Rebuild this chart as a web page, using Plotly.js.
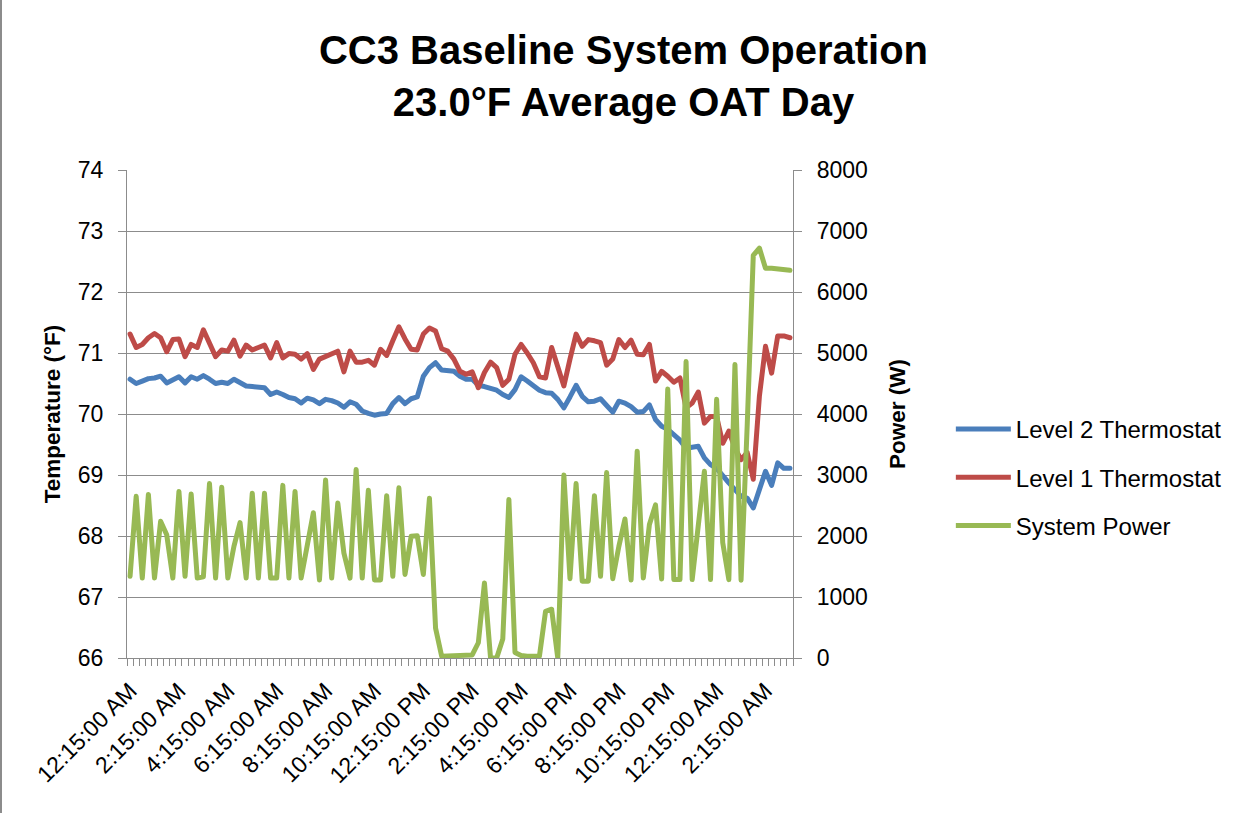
<!DOCTYPE html>
<html>
<head>
<meta charset="utf-8">
<script src="https://cdn.plot.ly/plotly-3.0.1.min.js"></script>
<style>
  html, body { margin: 0; padding: 0; background: #ffffff; }
  #chart { width: 1247px; height: 813px; position: relative; }
  #edge { position: absolute; left: 0; top: 0; width: 2px; height: 813px; background: #8c8c8c; }
  .scatterlayer path.js-line { stroke-linejoin: round; stroke-linecap: round; }
</style>
</head>
<body>
<div id="chart"></div>
<div id="edge"></div>
<script>
// 15-minute intervals, 12:15 AM through 3:15 AM next day
const times = [
  "12:15:00 AM","12:30:00 AM","12:45:00 AM",
  "1:00:00 AM","1:15:00 AM","1:30:00 AM","1:45:00 AM",
  "2:00:00 AM","2:15:00 AM","2:30:00 AM","2:45:00 AM",
  "3:00:00 AM","3:15:00 AM","3:30:00 AM","3:45:00 AM",
  "4:00:00 AM","4:15:00 AM","4:30:00 AM","4:45:00 AM",
  "5:00:00 AM","5:15:00 AM","5:30:00 AM","5:45:00 AM",
  "6:00:00 AM","6:15:00 AM","6:30:00 AM","6:45:00 AM",
  "7:00:00 AM","7:15:00 AM","7:30:00 AM","7:45:00 AM",
  "8:00:00 AM","8:15:00 AM","8:30:00 AM","8:45:00 AM",
  "9:00:00 AM","9:15:00 AM","9:30:00 AM","9:45:00 AM",
  "10:00:00 AM","10:15:00 AM","10:30:00 AM","10:45:00 AM",
  "11:00:00 AM","11:15:00 AM","11:30:00 AM","11:45:00 AM",
  "12:00:00 PM","12:15:00 PM","12:30:00 PM","12:45:00 PM",
  "1:00:00 PM","1:15:00 PM","1:30:00 PM","1:45:00 PM",
  "2:00:00 PM","2:15:00 PM","2:30:00 PM","2:45:00 PM",
  "3:00:00 PM","3:15:00 PM","3:30:00 PM","3:45:00 PM",
  "4:00:00 PM","4:15:00 PM","4:30:00 PM","4:45:00 PM",
  "5:00:00 PM","5:15:00 PM","5:30:00 PM","5:45:00 PM",
  "6:00:00 PM","6:15:00 PM","6:30:00 PM","6:45:00 PM",
  "7:00:00 PM","7:15:00 PM","7:30:00 PM","7:45:00 PM",
  "8:00:00 PM","8:15:00 PM","8:30:00 PM","8:45:00 PM",
  "9:00:00 PM","9:15:00 PM","9:30:00 PM","9:45:00 PM",
  "10:00:00 PM","10:15:00 PM","10:30:00 PM","10:45:00 PM",
  "11:00:00 PM","11:15:00 PM","11:30:00 PM","11:45:00 PM",
  "12:00:00 AM","12:15:00 AM","12:30:00 AM","12:45:00 AM",
  "1:00:00 AM","1:15:00 AM","1:30:00 AM","1:45:00 AM",
  "2:00:00 AM","2:15:00 AM","2:30:00 AM","2:45:00 AM",
  "3:00:00 AM","3:15:00 AM"
];

// Level 2 Thermostat (°F)
const level2 = [
  70.57, 70.50, 70.54, 70.58, 70.59, 70.62, 70.51, 70.55, 70.61, 70.51,
  70.61, 70.57, 70.63, 70.57, 70.50, 70.52, 70.50, 70.57, 70.51, 70.46,
  70.45, 70.44, 70.43, 70.32, 70.36, 70.32, 70.27, 70.25, 70.18, 70.26,
  70.23, 70.17, 70.24, 70.22, 70.18, 70.11, 70.20, 70.16, 70.05, 70.01,
  69.98, 70.00, 70.01, 70.17, 70.27, 70.17, 70.25, 70.28, 70.62, 70.76,
  70.84, 70.72, 70.72, 70.70, 70.62, 70.57, 70.57, 70.47, 70.45, 70.43,
  70.39, 70.32, 70.27, 70.40, 70.61, 70.54, 70.46, 70.39, 70.35, 70.34,
  70.24, 70.10, 70.28, 70.47, 70.29, 70.20, 70.21, 70.25, 70.14, 70.03,
  70.21, 70.18, 70.12, 70.03, 70.04, 70.15, 69.91, 69.80, 69.75, 69.66,
  69.57, 69.44, 69.46, 69.47, 69.28, 69.17, 69.11, 68.98, 68.87, 68.76,
  68.65, 68.62, 68.46, 68.76, 69.06, 68.83, 69.20, 69.11, 69.11
];

// Level 1 Thermostat (°F)
const level1 = [
  71.31, 71.09, 71.14, 71.25, 71.32, 71.25, 71.02, 71.22, 71.23, 70.94,
  71.14, 71.09, 71.38, 71.14, 70.94, 71.05, 71.03, 71.21, 70.95, 71.13,
  71.05, 71.09, 71.13, 70.92, 71.17, 70.92, 70.99, 70.98, 70.90, 70.99,
  70.73, 70.90, 70.94, 70.98, 71.03, 70.69, 71.03, 70.85, 70.85, 70.88,
  70.80, 71.06, 70.96, 71.20, 71.43, 71.23, 71.06, 71.05, 71.31, 71.41,
  71.36, 71.07, 71.03, 70.90, 70.70, 70.65, 70.69, 70.43, 70.68, 70.85,
  70.76, 70.47, 70.57, 70.98, 71.14, 71.00, 70.84, 70.61, 70.59, 71.09,
  70.79, 70.46, 70.90, 71.31, 71.11, 71.22, 71.20, 71.17, 70.80, 70.90,
  71.22, 71.09, 71.21, 70.98, 70.97, 71.14, 70.54, 70.70, 70.62, 70.52,
  70.59, 70.10, 70.18, 70.36, 69.85, 69.96, 69.96, 69.52, 69.72, 69.44,
  69.25, 69.37, 68.93, 70.29, 71.11, 70.67, 71.28, 71.28, 71.25
];

// System Power (W)
const systemPower = [
  1340, 2650, 1310, 2680, 1310, 2240, 2020, 1310, 2730, 1340,
  2690, 1310, 1330, 2860, 1310, 2800, 1310, 1830, 2220, 1310,
  2700, 1310, 2700, 1310, 1310, 2830, 1310, 2730, 1310, 1830,
  2380, 1280, 2920, 1310, 2540, 1720, 1310, 3090, 1310, 2750,
  1280, 1280, 2660, 1340, 2790, 1370, 1995, 2005, 1370, 2620,
  490, 30, 30, 30, 30, 30, 50, 250, 1230, 0,
  0, 310, 2600, 90, 40, 30, 30, 30, 765, 800,
  0, 3000, 1300, 2860, 1260, 1260, 2660, 1340, 3040, 1300,
  1830, 2280, 1280, 3390, 1310, 2190, 2510, 1295, 4410, 1285,
  1285, 4860, 1285, 2160, 3060, 1285, 4240, 1890, 1285, 4810,
  1275, 3800, 6600, 6720, 6390, 6390, 6380, 6355, 6355
];

const seriesNames = ["Level 2 Thermostat", "Level 1 Thermostat", "System Power"];
const chartTitle = "CC3 Baseline System Operation<br>23.0°F Average OAT Day";
const leftTitle = "Temperature (°F)";
const rightTitle = "Power (W)";
const labelEvery = 8;

const xIdx = times.map((t, i) => i);
const tickIdx = xIdx.filter(i => i % labelEvery === 0);
const tickTxt = tickIdx.map(i => times[i]);

const FONT = "Liberation Sans, Arial, sans-serif";
const GRID = "#8c8c8c";

const traces = [
  { x: xIdx, y: level2, name: seriesNames[0], type: "scatter", mode: "lines",
    line: { color: "#4A7EBB", width: 5 }, legendgroup: "a", yaxis: "y" },
  { x: xIdx, y: level1, name: seriesNames[1], type: "scatter", mode: "lines",
    line: { color: "#BE4B48", width: 5 }, legendgroup: "b", yaxis: "y" },
  { x: xIdx, y: systemPower, name: seriesNames[2], type: "scatter", mode: "lines",
    line: { color: "#98B954", width: 5 }, legendgroup: "c", yaxis: "y2" }
];

const layout = {
  width: 1247, height: 813,
  margin: { l: 127, r: 454, t: 170, b: 155, pad: 0 },
  paper_bgcolor: "#ffffff", plot_bgcolor: "#ffffff",
  font: { family: FONT, size: 23, color: "#000000" },
  title: {
    text: chartTitle,
    font: { family: FONT, size: 40, color: "#000000", weight: "bold" },
    x: 0.5, xref: "container", xanchor: "center",
    y: 1 - 64 / 813, yref: "container", yanchor: "top"
  },
  showlegend: true,
  legend: {
    x: 1.237, xanchor: "left", y: 0.37, yanchor: "middle",
    font: { family: FONT, size: 24, color: "#000000" },
    bgcolor: "rgba(0,0,0,0)", traceorder: "grouped", tracegroupgap: 14,
    itemwidth: 55
  },
  xaxis: {
    range: [-0.5, times.length - 0.5],
    tickmode: "array", tickvals: tickIdx, ticktext: tickTxt,
    tickangle: -45, ticks: "", ticklabelstandoff: 9,
    tickfont: { family: FONT, size: 23, color: "#000000" },
    showgrid: false, zeroline: false,
    showline: true, linecolor: GRID, linewidth: 1.3,
    minor: { tickmode: "linear", tick0: -0.5, dtick: 1, ticks: "outside",
             ticklen: 7, tickwidth: 1.3, tickcolor: GRID, showgrid: false },
    fixedrange: true
  },
  yaxis: {
    range: [66, 74], dtick: 1, tick0: 66,
    ticks: "outside", ticklen: 8, tickwidth: 1.3, tickcolor: GRID,
    ticklabelstandoff: 10,
    showgrid: true, gridcolor: GRID, gridwidth: 1.3, zeroline: false,
    showline: true, linecolor: GRID, linewidth: 1.3,
    tickfont: { family: FONT, size: 23, color: "#000000" },
    title: { text: leftTitle, standoff: 10,
             font: { family: FONT, size: 22.5, color: "#000000", weight: "bold" } },
    fixedrange: true
  },
  yaxis2: {
    range: [0, 8000], dtick: 1000, tick0: 0,
    overlaying: "y", side: "right",
    ticks: "outside", ticklen: 8, tickwidth: 1.3, tickcolor: GRID,
    ticklabelstandoff: 10,
    showgrid: false, zeroline: false,
    showline: true, linecolor: GRID, linewidth: 1.3,
    tickfont: { family: FONT, size: 23, color: "#000000" },
    title: { text: rightTitle, standoff: 22,
             font: { family: FONT, size: 22.5, color: "#000000", weight: "bold" } },
    fixedrange: true
  }
};

Plotly.newPlot("chart", traces, layout, { displayModeBar: false, responsive: false });
</script>
</body>
</html>
